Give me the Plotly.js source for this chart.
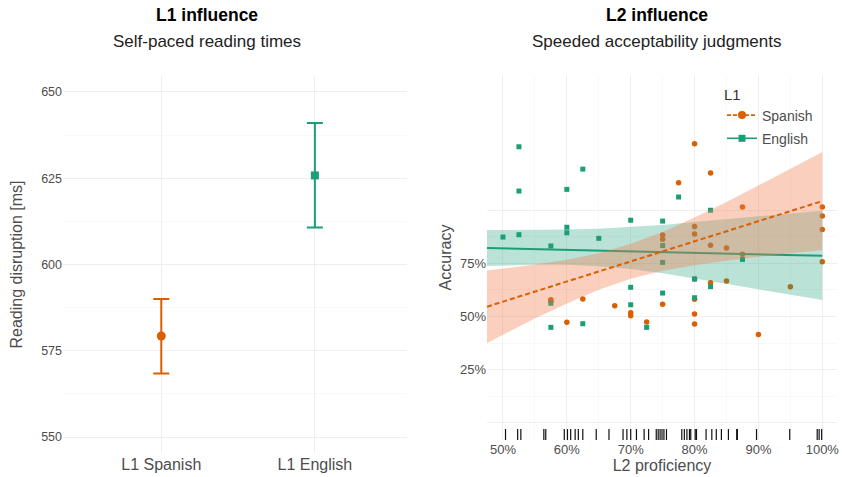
<!DOCTYPE html>
<html><head><meta charset="utf-8">
<script src="https://cdn.plot.ly/plotly-3.0.1.min.js"></script>
<style>html,body{margin:0;padding:0;background:#fff}#chart{width:842px;height:477px}</style>
</head><body><div id="chart"></div>
<script>
// ---- Left panel: L1 influence ----
const l1Groups = ['L1 Spanish', 'L1 English'];
const l1Mean = [579.3, 625.8];
const l1Low = [568.4, 610.7];
const l1High = [590.0, 641.0];
const l1YTicks = [550, 575, 600, 625, 650];

// ---- Right panel: L2 influence ----
const spanishProf = [57.5, 57.5, 60, 62.5, 67.5, 70, 70, 72.5, 75, 75, 75, 77.5,
  80, 80, 80, 80, 80, 80, 80, 82.5, 82.5, 82.5, 85, 85, 87.5, 87.5, 90, 95, 100, 100, 100, 100];
const spanishAcc = [57.9, 57.0, 47.3, 58.2, 55.1, 51.8, 50.4, 47.4, 88.3, 86.3, 55.8, 112.8,
  131.1, 92.2, 88.7, 67.6, 58.1, 51.2, 46.5, 117.4, 83.4, 65.9, 82.2, 66.7, 101.4, 79.2, 41.5, 64.0, 101.4, 97.2, 90.9, 75.7];
const englishProf = [50, 52.5, 52.5, 52.5, 57.5, 57.5, 57.5, 60, 60, 60, 62.5, 62.5, 65,
  70, 70, 70, 72.5, 75, 75, 75, 75, 77.5, 80, 80, 82.5, 82.5, 87.5];
const englishAcc = [87.3, 129.7, 108.9, 88.4, 83.1, 56.2, 44.9, 109.7, 91.9, 89.3, 119.2, 46.6, 86.7,
  95.2, 63.7, 55.5, 44.9, 94.8, 83.3, 75.4, 61.0, 106.1, 67.6, 58.8, 99.9, 64.0, 76.8];
const rugProf = [50.4, 52.3, 52.8, 56.4, 56.7, 59.6, 60.1, 60.6, 61.3, 61.8, 62.5, 64.6, 66.6,
  68.8, 69.4, 70.0, 70.9, 72.1, 72.8, 74.0, 74.3, 74.6, 74.9, 75.2, 75.6, 78.0, 78.4, 78.8,
  79.2, 79.4, 80.1, 80.3, 81.8, 82.7, 83.4, 84.2, 85.3, 86.6, 86.7, 89.7, 94.9, 99.2, 99.5, 99.9];
const fitProf = [47.5, 55, 60, 65, 70, 75, 80, 85, 90, 95, 100];
const spanishFit = [54.6, 61.7, 66.4, 71.1, 75.9, 80.6, 85.3, 90.0, 94.8, 99.5, 104.2];
const spanishHigh = [71.6, 74.4, 76.7, 79.7, 84.1, 89.7, 96.5, 103.8, 111.5, 119.3, 127.2];
const spanishLow = [37.6, 49.0, 56.1, 62.5, 67.7, 71.5, 74.1, 76.2, 78.1, 79.7, 81.2];
const englishFit = [82.2, 81.7, 81.3, 81.0, 80.6, 80.3, 79.9, 79.6, 79.2, 78.9, 78.5];
const englishHigh = [90.6, 90.6, 90.8, 91.2, 92.0, 93.0, 94.4, 95.8, 97.2, 98.5, 99.7];
const englishLow = [73.7, 74.3, 74.3, 73.6, 72.3, 70.3, 67.8, 65.3, 62.9, 60.3, 57.7];
const xTickVals = [50, 60, 70, 80, 90, 100];
const xTickText = ['50%', '60%', '70%', '80%', '90%', '100%'];
const yTickVals = [0, 25, 50, 75, 100];
const yTickText = ['', '25%', '50%', '75%', ''];

const ORANGE = '#D95F02', GREEN = '#1B9E77';
const FONT = 'Liberation Sans, Arial, sans-serif';
const GRID = '#efefef', GRIDMINOR = '#f6f6f6';

function band(x, lo, hi) {
  return { x: x.concat(x.slice().reverse()), y: hi.concat(lo.slice().reverse()) };
}
const enBand = band(fitProf, englishLow, englishHigh);
const esBand = band(fitProf, spanishLow, spanishHigh);

const traces = [
  { type: 'scatter', mode: 'markers', x: [l1Groups[0]], y: [l1Mean[0]], xaxis: 'x', yaxis: 'y',
    marker: { symbol: 'circle', size: 9, color: ORANGE },
    error_y: { type: 'data', symmetric: false, array: [l1High[0] - l1Mean[0]], arrayminus: [l1Mean[0] - l1Low[0]],
      color: ORANGE, thickness: 2, width: 8 }, showlegend: false },
  { type: 'scatter', mode: 'markers', x: [l1Groups[1]], y: [l1Mean[1]], xaxis: 'x', yaxis: 'y',
    marker: { symbol: 'square', size: 8, color: GREEN },
    error_y: { type: 'data', symmetric: false, array: [l1High[1] - l1Mean[1]], arrayminus: [l1Mean[1] - l1Low[1]],
      color: GREEN, thickness: 2, width: 8 }, showlegend: false },

  { type: 'scatter', mode: 'markers', x: spanishProf, y: spanishAcc, xaxis: 'x2', yaxis: 'y2',
    marker: { symbol: 'circle', size: 5.5, color: ORANGE }, showlegend: false },
  { type: 'scatter', mode: 'markers', x: englishProf, y: englishAcc, xaxis: 'x2', yaxis: 'y2',
    marker: { symbol: 'square', size: 5, color: GREEN }, showlegend: false },

  { type: 'scatter', mode: 'lines', x: enBand.x, y: enBand.y, xaxis: 'x2', yaxis: 'y2', fill: 'toself',
    fillcolor: 'rgba(27,158,119,0.30)', line: { width: 0 }, hoverinfo: 'skip', showlegend: false },
  { type: 'scatter', mode: 'lines', x: fitProf, y: englishFit, xaxis: 'x2', yaxis: 'y2',
    line: { color: GREEN, width: 2 }, showlegend: false },
  { type: 'scatter', mode: 'lines', x: esBand.x, y: esBand.y, xaxis: 'x2', yaxis: 'y2', fill: 'toself',
    fillcolor: 'rgba(242,123,75,0.36)', line: { width: 0 }, hoverinfo: 'skip', showlegend: false },
  { type: 'scatter', mode: 'lines', x: fitProf, y: spanishFit, xaxis: 'x2', yaxis: 'y2',
    line: { color: ORANGE, width: 2, dash: '5px,3px' }, showlegend: false },

  { type: 'scatter', mode: 'lines+markers', x: [null], y: [null], xaxis: 'x2', yaxis: 'y2', name: 'Spanish',
    legendgroup: 'es', line: { color: ORANGE, width: 1.6, dash: '4px,2px' }, marker: { symbol: 'circle', size: 8, color: ORANGE } },
  { type: 'scatter', mode: 'lines+markers', x: [null], y: [null], xaxis: 'x2', yaxis: 'y2', name: 'English',
    legendgroup: 'en', line: { color: GREEN, width: 1.6 }, marker: { symbol: 'square', size: 7, color: GREEN } }
];

const rugShapes = rugProf.map(v => ({ type: 'line', xref: 'x2', yref: 'y2 domain', x0: v, x1: v, y0: 0, y1: 0.03,
  line: { color: '#111', width: 1.2 } }));

const tickFont = { family: FONT, size: 13, color: '#4d4d4d' };
const titleFont = { family: FONT, size: 16, color: '#4d4d4d' };

const layout = {
  width: 842, height: 477,
  margin: { l: 0, r: 0, t: 0, b: 0 },
  paper_bgcolor: '#fff', plot_bgcolor: 'rgba(0,0,0,0)',
  font: { family: FONT },
  showlegend: true,
  xaxis: { domain: [63 / 842, 407 / 842], type: 'category', range: [-0.64, 1.6],
    showgrid: true, gridcolor: GRID, gridwidth: 1, zeroline: false, showline: false, ticks: '',
    tickfont: { family: FONT, size: 16, color: '#4d4d4d' }, fixedrange: true },
  yaxis: { domain: [1 - 453 / 477, 1 - 76 / 477], range: [545.4, 654.6], tickvals: l1YTicks,
    showgrid: true, gridcolor: GRID, gridwidth: 1, zeroline: false, ticks: '',
    minor: { tickmode: 'array', tickvals: [562.5, 587.5, 612.5, 637.5], showgrid: true, gridcolor: GRIDMINOR, gridwidth: 0.8 },
    tickfont: { family: FONT, size: 12.5, color: '#4d4d4d' },
    title: { text: 'Reading disruption [ms]', font: titleFont, standoff: 14 } },
  xaxis2: { domain: [487 / 842, 837 / 842], anchor: 'y2', range: [47.5, 102.3], tickvals: xTickVals, ticktext: xTickText,
    showgrid: true, gridcolor: GRID, gridwidth: 1, zeroline: false, ticks: '',
    minor: { tickmode: 'array', tickvals: [55, 65, 75, 85, 95], showgrid: true, gridcolor: GRIDMINOR, gridwidth: 0.8 },
    tickfont: tickFont,
    title: { text: 'L2 proficiency', font: titleFont, standoff: 2 } },
  yaxis2: { domain: [1 - 440 / 477, 1 - 75 / 477], anchor: 'x2', range: [-8.0, 163.4], tickvals: yTickVals, ticktext: yTickText,
    showgrid: true, gridcolor: GRID, gridwidth: 1, zeroline: false, ticks: '',
    minor: { tickmode: 'array', tickvals: [12.5, 37.5, 62.5, 87.5], showgrid: true, gridcolor: GRIDMINOR, gridwidth: 0.8 },
    tickfont: tickFont,
    title: { text: 'Accuracy', font: titleFont, standoff: 4 } },
  legend: { x: 722 / 842, y: 1 - 80 / 477, xanchor: 'left', yanchor: 'top', bgcolor: 'rgba(0,0,0,0)',
    font: { family: FONT, size: 14, color: '#4d4d4d' }, tracegroupgap: 2,
    title: { text: 'L1', font: { family: FONT, size: 15, color: '#333' } } },
  shapes: rugShapes,
  annotations: [
    { text: '<b>L1 influence</b>', xref: 'paper', yref: 'paper', x: 207 / 842, y: 1 - 15 / 477, showarrow: false,
      xanchor: 'center', yanchor: 'middle', font: { family: FONT, size: 17.5, color: '#000' } },
    { text: 'Self-paced reading times', xref: 'paper', yref: 'paper', x: 207 / 842, y: 1 - 42 / 477, showarrow: false,
      xanchor: 'center', yanchor: 'middle', font: { family: FONT, size: 17, color: '#222' } },
    { text: '<b>L2 influence</b>', xref: 'paper', yref: 'paper', x: 657 / 842, y: 1 - 15 / 477, showarrow: false,
      xanchor: 'center', yanchor: 'middle', font: { family: FONT, size: 17.5, color: '#000' } },
    { text: 'Speeded acceptability judgments', xref: 'paper', yref: 'paper', x: 657 / 842, y: 1 - 42 / 477, showarrow: false,
      xanchor: 'center', yanchor: 'middle', font: { family: FONT, size: 17, color: '#222' } }
  ]
};

Plotly.newPlot('chart', traces, layout, { staticPlot: true, displayModeBar: false });
</script>
</body></html>
